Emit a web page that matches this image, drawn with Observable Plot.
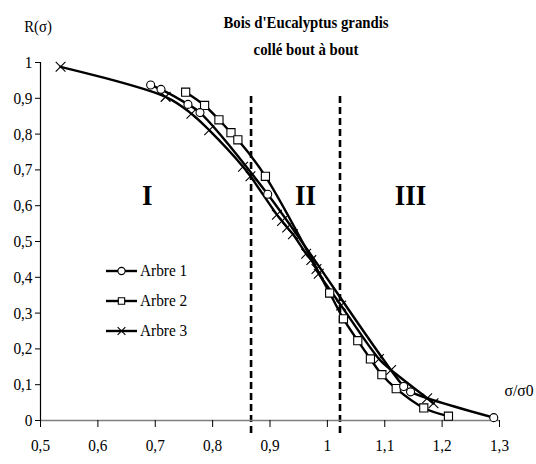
<!DOCTYPE html>
<html><head><meta charset="utf-8">
<script src="https://cdn.jsdelivr.net/npm/d3@7"></script>
<script src="https://cdn.jsdelivr.net/npm/@observablehq/plot@0.6"></script>
<style>
body{margin:0;background:#fff;}
#wrap{position:relative;width:536px;height:464px;color:#000;overflow:hidden;}
#wrap > svg{position:absolute;left:0;top:0;}
.t{position:absolute;white-space:nowrap;line-height:1;}
.leg{position:absolute;left:106px;height:18px;display:flex;align-items:center;transform:translateY(-50%);white-space:nowrap;}
.leg span{display:inline-block;font-size:17px;transform:scaleX(0.9);transform-origin:left center;}
</style></head><body><div id="wrap"></div>
<script>
// Arbre 1 (circles)
const arbre1X = [0.692, 0.710, 0.757, 0.778, 0.896, 1.133, 1.145, 1.290];
const arbre1Y = [0.937, 0.925, 0.883, 0.860, 0.632, 0.095, 0.080, 0.008];
// Arbre 2 (squares)
const arbre2X = [0.753, 0.786, 0.811, 0.832, 0.844, 0.892, 1.004, 1.028, 1.053, 1.075, 1.095, 1.120, 1.168, 1.211];
const arbre2Y = [0.917, 0.880, 0.840, 0.804, 0.784, 0.682, 0.356, 0.284, 0.223, 0.172, 0.128, 0.089, 0.035, 0.012];
// Arbre 3 (crosses)
const arbre3X = [0.535, 0.718, 0.763, 0.794, 0.853, 0.866, 0.912, 0.921, 0.930, 0.940, 0.963, 0.972, 0.981, 0.985, 1.024, 1.090, 1.111, 1.174, 1.185];
const arbre3Y = [0.988, 0.904, 0.857, 0.811, 0.709, 0.682, 0.575, 0.557, 0.539, 0.520, 0.466, 0.448, 0.423, 0.410, 0.321, 0.172, 0.141, 0.062, 0.048];

const seriesNames = ["Arbre 1", "Arbre 2", "Arbre 3"];
const xTicks = [0.5, 0.6, 0.7, 0.8, 0.9, 1.0, 1.1, 1.2, 1.3];
const yTicks = [0, 0.1, 0.2, 0.3, 0.4, 0.5, 0.6, 0.7, 0.8, 0.9, 1];
const regionBounds = [0.867, 1.022];
const regionLabels = ["I", "II", "III"];
const regionLabelX = [0.686, 0.962, 1.145];
const regionLabelY = [0.63, 0.63, 0.63];
const titleLines = ["Bois d'Eucalyptus grandis", "collé bout à bout"];
const yAxisLabel = "R(σ)";
const xAxisLabel = "σ/σ0";

const font = '"Liberation Serif", "Times New Roman", serif';
const wrap = document.getElementById("wrap");
wrap.style.fontFamily = font;

const mk = (xs, ys, s) => xs.map((x, i) => ({x, y: ys[i], s}));
const s1 = mk(arbre1X, arbre1Y, seriesNames[0]);
const s2 = mk(arbre2X, arbre2Y, seriesNames[1]);
const s3 = mk(arbre3X, arbre3Y, seriesNames[2]);
const regions = regionLabels.map((t, i) => ({t, x: regionLabelX[i], y: regionLabelY[i]}));
const fmt = d => String(+d.toFixed(1)).replace(".", ",");
const lw = 2.4;

const plot = Plot.plot({
  width: 536, height: 464,
  marginLeft: 40, marginRight: 37, marginTop: 62, marginBottom: 44,
  x: {domain: [0.5, 1.3]},
  y: {domain: [0, 1]},
  style: {fontFamily: font, fontSize: "17px", background: "white", color: "black", overflow: "visible"},
  marks: [
    Plot.ruleX(regionBounds, {y1: -0.036, y2: 0.915, stroke: "black", strokeWidth: 2.6, strokeDasharray: "7,4"}),
    Plot.ruleY([0], {x1: 0.5, x2: 1.3, stroke: "#808080", strokeWidth: 1.5}),
    Plot.ruleX([0.5], {y1: 0, y2: 1, stroke: "black", strokeWidth: 1.2}),
    Plot.axisX({ticks: xTicks, tickFormat: fmt, tickSize: 7, tickPadding: 11, label: null, fontSize: 17, fontFamily: font}),
    Plot.axisY({ticks: yTicks, tickFormat: fmt, tickSize: 5, tickPadding: 3, label: null, fontSize: 17, fontFamily: font}),
    Plot.line(s1, {x: "x", y: "y", curve: "catmull-rom", stroke: "black", strokeWidth: lw}),
    Plot.line(s2, {x: "x", y: "y", curve: "catmull-rom", stroke: "black", strokeWidth: lw}),
    Plot.line(s3, {x: "x", y: "y", curve: "catmull-rom", stroke: "black", strokeWidth: lw}),
    Plot.dot(s3, {x: "x", y: "y", symbol: "times", r: 4.5, stroke: "black", strokeWidth: 1.1}),
    Plot.dot(s2, {x: "x", y: "y", symbol: "square", r: 4.6, stroke: "black", fill: "white", strokeWidth: 1.1}),
    Plot.dot(s1, {x: "x", y: "y", symbol: "circle", r: 4, stroke: "black", fill: "white", strokeWidth: 1.1}),
    Plot.text(regions, {x: "x", y: "y", text: "t", fontSize: 30, fontWeight: "bold", fontFamily: font, fill: "black"})
  ]
});
wrap.appendChild(plot);
// narrow the glyphs horizontally, like the condensed serif of the reference
plot.querySelectorAll("text").forEach(t => {
  let x = parseFloat(t.getAttribute("x"));
  if (!isFinite(x)) x = 0;
  const T = t.getAttribute("transform") || "";
  t.setAttribute("transform", `${T} translate(${x},0) scale(0.9,1) translate(${-x},0)`.trim());
});

function addText(txt, x, y, size, bold, sx) {
  const d = document.createElement("div");
  d.className = "t";
  d.textContent = txt;
  d.style.left = x + "px"; d.style.top = y + "px";
  d.style.fontSize = size + "px";
  d.style.fontFamily = font;
  d.style.transform = `translate(-50%,-50%) scaleX(${sx})`;
  if (bold) d.style.fontWeight = "bold";
  wrap.appendChild(d);
}
addText(titleLines[0], 306, 22, 17, true, 0.87);
addText(titleLines[1], 306, 49, 17, true, 0.87);
addText(yAxisLabel, 38, 27, 16, false, 0.92);
addText(xAxisLabel, 519, 390, 17, false, 0.92);

const symbols = ["circle", "square", "times"];
const legY = [271, 301, 331];
seriesNames.forEach((name, i) => {
  const row = document.createElement("div");
  row.className = "leg";
  row.style.top = legY[i] + "px";
  row.style.fontFamily = font;
  const ns = "http://www.w3.org/2000/svg";
  const sv = document.createElementNS(ns, "svg");
  sv.setAttribute("width", 32); sv.setAttribute("height", 14);
  sv.style.marginRight = "2px";
  const ln = document.createElementNS(ns, "line");
  ln.setAttribute("x1", 0); ln.setAttribute("x2", 31); ln.setAttribute("y1", 7); ln.setAttribute("y2", 7);
  ln.setAttribute("stroke", "black"); ln.setAttribute("stroke-width", 2.4);
  sv.appendChild(ln);
  const p = document.createElementNS(ns, "path");
  const sym = {circle: d3.symbolCircle, square: d3.symbolSquare, times: d3.symbolTimes}[symbols[i]];
  p.setAttribute("d", d3.symbol(sym, Math.PI * 3.6 * 3.6)());
  p.setAttribute("transform", "translate(15.5,7)");
  p.setAttribute("stroke", "black"); p.setAttribute("stroke-width", 1.1);
  p.setAttribute("fill", "white");
  sv.appendChild(p);
  row.appendChild(sv);
  const tx = document.createElement("span");
  tx.textContent = name;
  row.appendChild(tx);
  wrap.appendChild(row);
});
</script></body></html>
